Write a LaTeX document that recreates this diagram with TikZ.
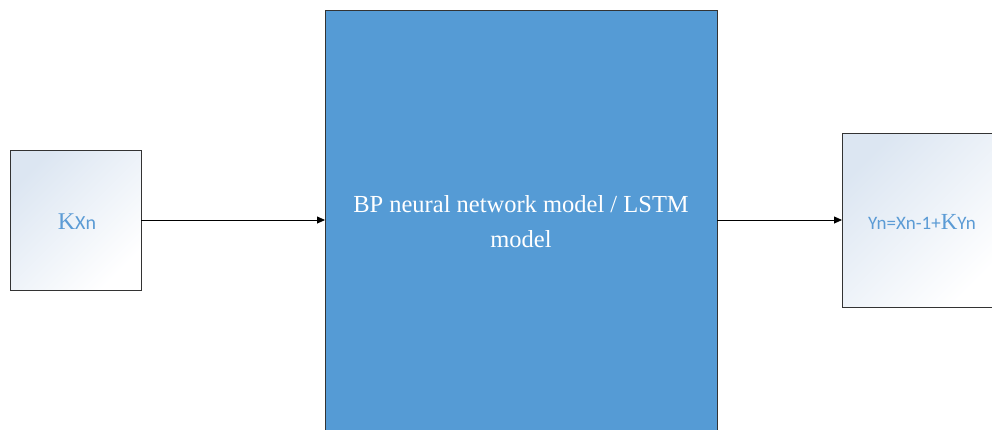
\documentclass[tikz,border=0pt]{standalone}
\usepackage{fontspec}
\setmainfont{Liberation Serif}
\newfontfamily\carlitofont{Carlito}
\usetikzlibrary{arrows.meta}
\definecolor{boxblue}{HTML}{559BD5}
\definecolor{lightbg}{HTML}{DCE6F2}
\definecolor{txtblue}{HTML}{5B9BD5}
\begin{document}
\begin{tikzpicture}[x=1pt,y=-1pt,
  gbox/.style={draw=black!80, line width=0.8pt, shading=axis, top color=lightbg, middle color=lightbg!25, bottom color=white, shading angle=45},
  conn/.style={-{Triangle[length=8pt,width=7pt]}, line width=0.8pt, black}]
\useasboundingbox (0,0) rectangle (992,429);
\clip (0,0) rectangle (992,429);
\path[gbox] (10,150) rectangle (141,290);
\coordinate (Lr) at (141,220);
\node[text=txtblue, anchor=center] (L) at (77,222) {{\fontsize{24}{26}\selectfont K}{\carlitofont\fontsize{20}{22}\selectfont Xn}};
\path[draw=black!80, line width=0.8pt, fill=boxblue] (325,10) rectangle (717,440);
\coordinate (Ml) at (325,220);
\coordinate (Mr) at (717,220);
\node[text=white, align=center, font=\fontsize{24.5}{35}\selectfont] (M) at (521,222) {BP neural network model / LSTM\\model};
\path[gbox] (842,133) rectangle (1000,307);
\coordinate (Rl) at (842,220);
\node[text=txtblue] (R) at (922,222) {{\carlitofont\fontsize{19}{21}\selectfont Yn=Xn-1+}{\fontsize{23}{25}\selectfont K}{\carlitofont\fontsize{19}{21}\selectfont Yn}};
\draw[conn] (Lr) -- (Ml);
\draw[conn] (Mr) -- (Rl);
\end{tikzpicture}
\end{document}
